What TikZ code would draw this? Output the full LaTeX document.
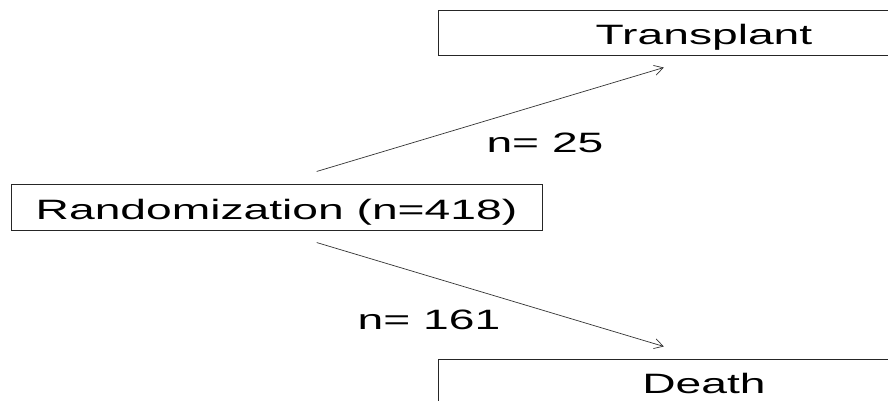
\documentclass[tikz,border=0pt]{standalone}
\usepackage{fontspec}
\setmainfont{Liberation Sans}
\usepackage{graphicx}
\usetikzlibrary{arrows.meta}
\newcommand\wtxt[1]{\scalebox{1.65}[1]{#1}}
\begin{document}
\begin{tikzpicture}[x=1pt,y=-1pt,
  box/.style={draw=black!85, line width=1pt, inner sep=0pt,
    text height=24pt, text depth=0pt,
    font=\fontsize{28}{30}\selectfont},
  lbl/.style={inner sep=0pt, anchor=base, font=\fontsize{28}{30}\selectfont},
  arr/.style={draw=black!80, line width=0.7pt,
    -{Straight Barb[angle=60:10pt]}, shorten <=42pt, shorten >=42pt}]
\path[use as bounding box] (0,0) rectangle (888,400);
\clip (0,0) rectangle (888,400);
\fill[white] (0,0) rectangle (888,400);
\node[box, minimum width=532pt, minimum height=45pt] (trans) at (704,32.5) {\wtxt{Transplant}};
\node[box, minimum width=531pt, minimum height=46pt] (rand) at (276.5,207) {\wtxt{Randomization (n=418)}};
\node[box, minimum width=532pt, minimum height=45pt] (death) at (704,381.5) {\wtxt{Death}};
\node[lbl] (lab1) at (545,152) {\wtxt{n= 25}};
\node[lbl] (lab2) at (429,329) {\wtxt{n= 161}};
\draw[arr] (rand.north) -- (trans.south);
\draw[arr] (rand.south) -- (death.north);
\end{tikzpicture}
\end{document}
